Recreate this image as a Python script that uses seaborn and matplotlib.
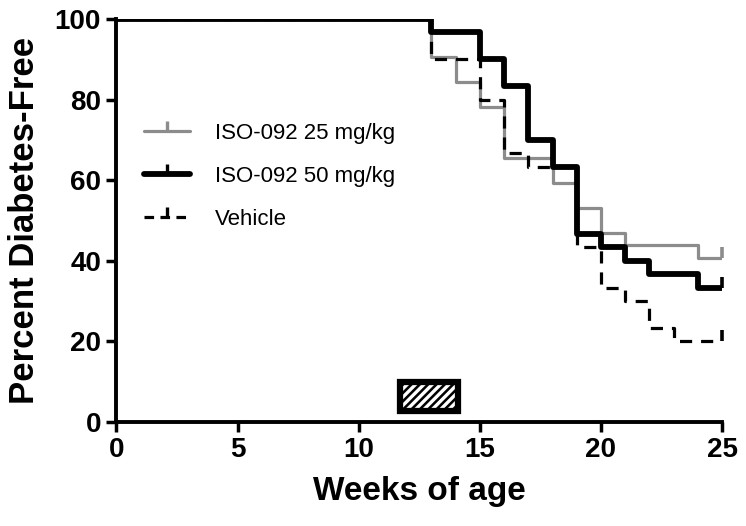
import numpy as np
import pandas as pd
import seaborn as sns
import matplotlib
matplotlib.use("Agg")
import matplotlib.pyplot as plt
from matplotlib.patches import Rectangle

# Kaplan-Meier step data (weeks, percent diabetes-free)
weeks_25 = [0, 13, 14, 15, 16, 18, 19, 20, 21, 24, 25]
surv_25 = [100, 90.6, 84.4, 78.1, 65.6, 59.4, 53.1, 46.9, 43.8, 40.6, 40.6]

weeks_50 = [0, 13, 15, 16, 17, 18, 19, 20, 21, 22, 24, 25]
surv_50 = [100, 96.7, 90.0, 83.3, 70.0, 63.3, 46.7, 43.3, 40.0, 36.7, 33.3, 33.3]

weeks_veh = [0, 13, 15, 16, 17, 19, 20, 21, 22, 23, 25]
surv_veh = [100, 90.0, 80.0, 66.7, 63.3, 43.3, 33.3, 30.0, 23.3, 20.0, 20.0]

series_names = ["ISO-092 25 mg/kg", "ISO-092 50 mg/kg", "Vehicle"]
treatment_start, treatment_end = 11.7, 14.1
treatment_low, treatment_high = 2.6, 10.0

x_ticks = [0, 5, 10, 15, 20, 25]
y_ticks = [0, 20, 40, 60, 80, 100]

sns.set_theme(style="ticks")
plt.rcParams['font.family'] = ['Liberation Sans', 'DejaVu Sans']
plt.rcParams['hatch.linewidth'] = 2.4
plt.rcParams['text.color'] = 'black'
plt.rcParams['axes.labelcolor'] = 'black'

fig = plt.figure(figsize=(7.46, 5.26), dpi=100)
ax = fig.add_axes([0.156, 0.198, 0.812, 0.766])

df = pd.concat([
    pd.DataFrame({"week": weeks_25, "surv": surv_25, "group": series_names[0]}),
    pd.DataFrame({"week": weeks_50, "surv": surv_50, "group": series_names[1]}),
    pd.DataFrame({"week": weeks_veh, "surv": surv_veh, "group": series_names[2]}),
])

styles = {
    series_names[0]: dict(color="#8c8c8c", lw=2.3, ls="-"),
    series_names[1]: dict(color="black", lw=4.2, ls="-"),
    series_names[2]: dict(color="black", lw=2.3, ls=(0, (3.8, 2.8))),
}

handles = []
for name in series_names:
    sub = df[df.group == name]
    st = styles[name]
    sns.lineplot(data=sub, x="week", y="surv", drawstyle="steps-post", ax=ax,
                 color=st["color"], linewidth=st["lw"], linestyle=st["ls"],
                 estimator=None, legend=False)
    ax.plot([sub.week.iloc[-1]], [sub.surv.iloc[-1]], marker=2, ms=8,
            mew=2.6, color="black" if name != series_names[0] else st["color"],
            clip_on=False, ls="none")
    h, = ax.plot([], [], color=st["color"], lw=st["lw"],
                 ls=st["ls"] if name != series_names[2] else (0, (3.0, 2.0)),
                 marker=2, ms=7, mew=2.4)
    handles.append(h)

# treatment bar: black box with white diagonal hatching
w = treatment_end - treatment_start
hh = treatment_high - treatment_low
ax.add_patch(Rectangle((treatment_start, treatment_low), w, hh,
                       facecolor="black", edgecolor="none", clip_on=False))
ax.add_patch(Rectangle((treatment_start, treatment_low), w, hh,
                       facecolor="none", edgecolor="white", hatch="////", lw=0,
                       clip_on=False))
ax.add_patch(Rectangle((treatment_start, treatment_low), w, hh,
                       facecolor="none", edgecolor="black", lw=4.5,
                       clip_on=False, joinstyle="miter"))

ax.set_xlim(0, 25)
ax.set_ylim(0, 100)
ax.set_xticks(x_ticks)
ax.set_yticks(y_ticks)
ax.tick_params(width=2.5, length=7, labelsize=20, direction="out", colors="black",
               pad=4)
for lab in ax.get_xticklabels() + ax.get_yticklabels():
    lab.set_fontweight("bold")
for s in ["top", "right"]:
    ax.spines[s].set_visible(False)
for s in ["left", "bottom"]:
    ax.spines[s].set_linewidth(2.8)
    ax.spines[s].set_color("black")

ax.set_xlabel("Weeks of age", fontsize=24, fontweight="bold", labelpad=9,
              color="black")
ax.set_ylabel("Percent Diabetes-Free", fontsize=25, fontweight="bold", labelpad=10,
              color="black")

leg = ax.legend(handles, series_names, loc="upper left", bbox_to_anchor=(0.012, 0.792),
                frameon=False, fontsize=16, handlelength=2.1, labelspacing=1.0,
                handletextpad=1.1)
for t in leg.get_texts():
    t.set_color("black")

fig.savefig("out.png", dpi=100)
